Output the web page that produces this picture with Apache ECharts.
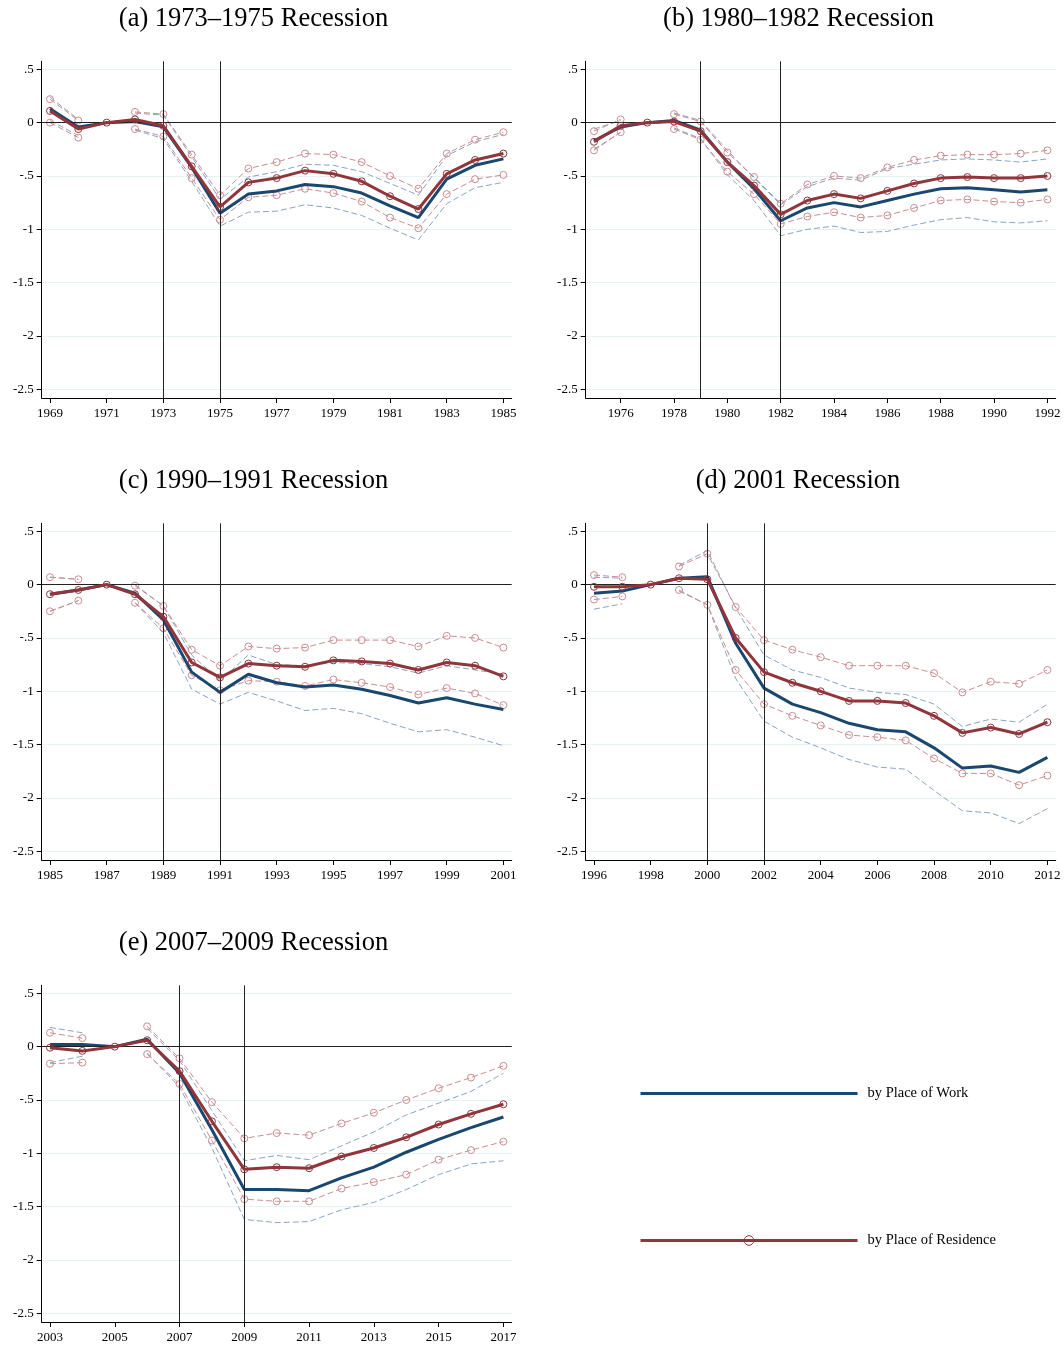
<!DOCTYPE html>
<html>
<head>
<meta charset="utf-8">
<script src="https://cdn.jsdelivr.net/npm/echarts@6/dist/echarts.min.js"></script>
<style>
  html, body { margin: 0; padding: 0; background: #fff; }
  #chart { width: 1064px; height: 1346px; }
</style>
</head>
<body>
<div id="chart"></div>
<script>
// ---------------- DATA ----------------
const yTicks = [0.5, 0, -0.5, -1, -1.5, -2, -2.5];
const legendWork = 'by Place of Work';
const legendRes = 'by Place of Residence';

// (a) 1973–1975
const titleA = '(a) 1973\u20131975 Recession';
const yearsA = [1969,1970,1971,1972,1973,1974,1975,1976,1977,1978,1979,1980,1981,1982,1983,1984,1985];
const xTicksA = [1969,1971,1973,1975,1977,1979,1981,1983,1985];
const recA = [1973, 1975];
const workA   = [0.13,-0.04,0,0.01,-0.04,-0.42,-0.85,-0.67,-0.64,-0.58,-0.60,-0.66,-0.78,-0.89,-0.53,-0.40,-0.34];
const workHiA = [0.24,0.03,null,0.09,0.07,-0.32,-0.72,-0.51,-0.46,-0.39,-0.40,-0.46,-0.57,-0.68,-0.31,-0.18,-0.11];
const workLoA = [0.02,-0.12,null,-0.07,-0.15,-0.55,-0.97,-0.84,-0.83,-0.77,-0.80,-0.87,-0.99,-1.10,-0.76,-0.61,-0.56];
const resA    = [0.11,-0.06,0,0.03,-0.03,-0.41,-0.79,-0.56,-0.52,-0.45,-0.48,-0.55,-0.69,-0.81,-0.48,-0.35,-0.29];
const resHiA  = [0.22,0.02,null,0.10,0.08,-0.30,-0.68,-0.43,-0.37,-0.29,-0.30,-0.37,-0.50,-0.62,-0.29,-0.16,-0.09];
const resLoA  = [0.00,-0.14,null,-0.06,-0.13,-0.52,-0.91,-0.70,-0.68,-0.62,-0.66,-0.74,-0.89,-0.99,-0.67,-0.53,-0.49];

// (b) 1980–1982
const titleB = '(b) 1980\u20131982 Recession';
const yearsB = [1975,1976,1977,1978,1979,1980,1981,1982,1983,1984,1985,1986,1987,1988,1989,1990,1991,1992];
const xTicksB = [1976,1978,1980,1982,1984,1986,1988,1990,1992];
const recB = [1979, 1982];
const workB   = [-0.17,-0.04,0,0.02,-0.07,-0.37,-0.62,-0.92,-0.80,-0.75,-0.79,-0.73,-0.67,-0.62,-0.61,-0.63,-0.65,-0.63];
const workHiB = [-0.06,0.02,null,0.09,0.02,-0.26,-0.52,-0.77,-0.60,-0.52,-0.54,-0.43,-0.39,-0.35,-0.34,-0.35,-0.37,-0.34];
const workLoB = [-0.25,-0.09,null,-0.05,-0.15,-0.49,-0.73,-1.06,-1.00,-0.97,-1.03,-1.02,-0.96,-0.91,-0.89,-0.93,-0.94,-0.92];
const resB    = [-0.18,-0.03,0,0.01,-0.08,-0.37,-0.59,-0.86,-0.73,-0.67,-0.71,-0.64,-0.57,-0.52,-0.51,-0.52,-0.52,-0.50];
const resHiB  = [-0.08,0.03,null,0.08,0.01,-0.28,-0.51,-0.76,-0.58,-0.50,-0.52,-0.42,-0.35,-0.31,-0.30,-0.30,-0.29,-0.26];
const resLoB  = [-0.26,-0.09,null,-0.06,-0.16,-0.46,-0.67,-0.95,-0.88,-0.84,-0.89,-0.87,-0.80,-0.73,-0.72,-0.74,-0.75,-0.72];

// (c) 1990–1991
const titleC = '(c) 1990\u20131991 Recession';
const yearsC = [1985,1986,1987,1988,1989,1990,1991,1992,1993,1994,1995,1996,1997,1998,1999,2000,2001];
const xTicksC = [1985,1987,1989,1991,1993,1995,1997,1999,2001];
const recC = [1989, 1991];
const workC   = [-0.09,-0.05,0,-0.08,-0.33,-0.82,-1.01,-0.84,-0.92,-0.96,-0.94,-0.98,-1.04,-1.11,-1.06,-1.12,-1.17];
const workHiC = [0.07,0.05,null,0.00,-0.20,-0.66,-0.90,-0.66,-0.75,-0.76,-0.73,-0.74,-0.77,-0.83,-0.76,-0.80,-0.84];
const workLoC = [-0.25,-0.15,null,-0.17,-0.45,-0.98,-1.12,-1.01,-1.09,-1.18,-1.16,-1.21,-1.30,-1.38,-1.36,-1.43,-1.51];
const resC    = [-0.09,-0.05,0,-0.09,-0.30,-0.73,-0.87,-0.74,-0.76,-0.77,-0.71,-0.72,-0.74,-0.80,-0.73,-0.76,-0.86];
const resHiC  = [0.07,0.05,null,-0.01,-0.20,-0.61,-0.76,-0.58,-0.60,-0.59,-0.52,-0.52,-0.52,-0.58,-0.48,-0.50,-0.59];
const resLoC  = [-0.25,-0.15,null,-0.17,-0.41,-0.85,-0.99,-0.90,-0.91,-0.95,-0.89,-0.92,-0.96,-1.03,-0.97,-1.02,-1.13];

// (d) 2001
const titleD = '(d) 2001 Recession';
const yearsD = [1996,1997,1998,1999,2000,2001,2002,2003,2004,2005,2006,2007,2008,2009,2010,2011,2012];
const xTicksD = [1996,1998,2000,2002,2004,2006,2008,2010,2012];
const recD = [2000, 2002];
const workD   = [-0.08,-0.06,0,0.06,0.075,-0.55,-0.97,-1.12,-1.20,-1.30,-1.36,-1.38,-1.53,-1.72,-1.70,-1.76,-1.62];
const workHiD = [0.07,0.06,null,0.18,0.32,-0.22,-0.66,-0.80,-0.87,-0.97,-1.01,-1.03,-1.12,-1.33,-1.26,-1.29,-1.12];
const workLoD = [-0.23,-0.18,null,-0.06,-0.19,-0.88,-1.28,-1.43,-1.53,-1.64,-1.71,-1.73,-1.93,-2.12,-2.14,-2.24,-2.10];
const resD    = [-0.02,-0.02,0,0.06,0.05,-0.50,-0.82,-0.92,-1.00,-1.09,-1.09,-1.11,-1.23,-1.39,-1.34,-1.40,-1.29];
const resHiD  = [0.09,0.07,null,0.17,0.29,-0.21,-0.52,-0.61,-0.68,-0.76,-0.76,-0.76,-0.83,-1.01,-0.91,-0.93,-0.80];
const resLoD  = [-0.14,-0.11,null,-0.05,-0.19,-0.80,-1.12,-1.23,-1.32,-1.41,-1.43,-1.46,-1.63,-1.77,-1.77,-1.88,-1.79];

// (e) 2007–2009
const titleE = '(e) 2007\u20132009 Recession';
const yearsE = [2003,2004,2005,2006,2007,2008,2009,2010,2011,2012,2013,2014,2015,2016,2017];
const xTicksE = [2003,2005,2007,2009,2011,2013,2015,2017];
const recE = [2007, 2009];
const workE   = [0.02,0.02,0,0.07,-0.25,-0.78,-1.34,-1.34,-1.35,-1.23,-1.13,-0.99,-0.87,-0.76,-0.66];
const workHiE = [0.18,0.13,null,0.17,-0.13,-0.60,-1.07,-1.02,-1.06,-0.93,-0.80,-0.64,-0.53,-0.42,-0.25];
const workLoE = [-0.15,-0.09,null,-0.06,-0.38,-0.95,-1.62,-1.65,-1.64,-1.53,-1.46,-1.34,-1.20,-1.10,-1.07];
const resE    = [-0.01,-0.04,0,0.06,-0.23,-0.70,-1.15,-1.13,-1.14,-1.03,-0.95,-0.85,-0.73,-0.63,-0.54];
const resHiE  = [0.13,0.08,null,0.19,-0.11,-0.52,-0.86,-0.81,-0.83,-0.72,-0.62,-0.50,-0.39,-0.29,-0.18];
const resLoE  = [-0.16,-0.15,null,-0.07,-0.35,-0.88,-1.43,-1.45,-1.45,-1.33,-1.27,-1.20,-1.06,-0.97,-0.89];

// ---------------- LAYOUT / STYLE ----------------
const panels = [
  {title: titleA, years: yearsA, xTicks: xTicksA, rec: recA, work: workA, workHi: workHiA, workLo: workLoA, res: resA, resHi: resHiA, resLo: resLoA},
  {title: titleB, years: yearsB, xTicks: xTicksB, rec: recB, work: workB, workHi: workHiB, workLo: workLoB, res: resB, resHi: resHiB, resLo: resLoB},
  {title: titleC, years: yearsC, xTicks: xTicksC, rec: recC, work: workC, workHi: workHiC, workLo: workLoC, res: resC, resHi: resHiC, resLo: resLoC},
  {title: titleD, years: yearsD, xTicks: xTicksD, rec: recD, work: workD, workHi: workHiD, workLo: workLoD, res: resD, resHi: resHiD, resLo: resLoD},
  {title: titleE, years: yearsE, xTicks: xTicksE, rec: recE, work: workE, workHi: workHiE, workLo: workLoE, res: resE, resHi: resHiE, resLo: resLoE}
];
const layout = [
  {left: 41.7, top: 61.3, tx: 253.5, ty: 19},
  {left: 585.7, top: 61.3, tx: 798.5, ty: 19},
  {left: 41.7, top: 523.3, tx: 253.5, ty: 481},
  {left: 585.7, top: 523.3, tx: 798, ty: 481},
  {left: 41.7, top: 985.3, tx: 253.5, ty: 943}
];
const GW = 470, GH = 336.7, PADPX = 8.3;
const YMIN = -2.5 - 8.7 / 106.67, YMAX = 0.5 + 8 / 106.67;
const FONT = '"Liberation Serif", "Times New Roman", serif';
const BLUE = '#1a476f', RED = '#90353b', BLUE_CI = '#87a6c4', RED_CI = '#cc8d92';
const GRIDC = '#e8f1f3';

function yFmt(v) {
  if (Math.abs(v) < 1e-9) return '0';
  const s = String(+v.toFixed(1));
  return s.replace(/^(-?)0\./, '$1.');
}
function pairs(xs, ys) { return xs.map((x, i) => [x, ys[i]]); }

const grids = [], xAxes = [], yAxes = [], series = [], graphics = [];
panels.forEach((p, k) => {
  const L = layout[k];
  const first = p.years[0], last = p.years[p.years.length - 1];
  const pad = (last - first) * PADPX / (GW - 2 * PADPX);
  grids.push({left: L.left, top: L.top, width: GW, height: GH, containLabel: false});
  xAxes.push({
    type: 'value', gridIndex: k, min: first - pad, max: last + pad,
    axisLine: {show: true, onZero: false, lineStyle: {color: '#000', width: 1}},
    axisTick: {show: true, length: 5, customValues: p.xTicks, lineStyle: {color: '#000'}},
    axisLabel: {customValues: p.xTicks, formatter: v => String(Math.round(v)), color: '#000', fontFamily: FONT, fontSize: 13, margin: 9},
    splitLine: {show: false}
  });
  yAxes.push({
    type: 'value', gridIndex: k, min: YMIN, max: YMAX,
    axisLine: {show: true, onZero: false, lineStyle: {color: '#000', width: 1}},
    axisTick: {show: true, length: 5, customValues: yTicks, lineStyle: {color: '#000'}},
    axisLabel: {customValues: yTicks, formatter: yFmt, color: '#000', fontFamily: FONT, fontSize: 13, margin: 8},
    splitLine: {show: true, lineStyle: {color: GRIDC, width: 1}}
  });
  const common = {type: 'line', xAxisIndex: k, yAxisIndex: k, connectNulls: false, silent: true, animation: false};
  series.push(Object.assign({}, common, {
    name: 'wHi' + k, data: pairs(p.years, p.workHi), symbol: 'none',
    lineStyle: {color: BLUE_CI, width: 1, type: [6, 3]}, z: 2,
    markLine: {
      silent: true, symbol: ['none', 'none'], label: {show: false}, animation: false,
      lineStyle: {color: '#222', width: 1, type: 'solid'},
      data: [{yAxis: 0}].concat(p.rec.map(r => ({xAxis: r})))
    }
  }));
  series.push(Object.assign({}, common, {
    name: 'wLo' + k, data: pairs(p.years, p.workLo), symbol: 'none',
    lineStyle: {color: BLUE_CI, width: 1, type: [6, 3]}, z: 2
  }));
  series.push(Object.assign({}, common, {
    name: 'rHi' + k, data: pairs(p.years, p.resHi), symbol: 'circle', symbolSize: 7,
    itemStyle: {color: 'rgba(0,0,0,0)', borderColor: RED_CI, borderWidth: 1},
    lineStyle: {color: RED_CI, width: 1, type: [6, 3]}, z: 3
  }));
  series.push(Object.assign({}, common, {
    name: 'rLo' + k, data: pairs(p.years, p.resLo), symbol: 'circle', symbolSize: 7,
    itemStyle: {color: 'rgba(0,0,0,0)', borderColor: RED_CI, borderWidth: 1},
    lineStyle: {color: RED_CI, width: 1, type: [6, 3]}, z: 3
  }));
  series.push(Object.assign({}, common, {
    name: legendWork, data: pairs(p.years, p.work), symbol: 'none',
    itemStyle: {color: BLUE},
    lineStyle: {color: BLUE, width: 3}, z: 4
  }));
  series.push(Object.assign({}, common, {
    name: legendRes, data: pairs(p.years, p.res), symbol: 'circle', symbolSize: 7,
    itemStyle: {color: 'rgba(0,0,0,0)', borderColor: RED, borderWidth: 1},
    lineStyle: {color: RED, width: 3}, z: 5
  }));
  graphics.push({
    type: 'text', x: L.tx, y: L.ty, silent: true,
    style: {text: p.title, font: '26.5px ' + FONT, fill: '#000', textAlign: 'center', textVerticalAlign: 'middle'}
  });
});

const chart = echarts.init(document.getElementById('chart'), null, {renderer: 'canvas'});
chart.setOption({
  animation: false,
  backgroundColor: '#fff',
  grid: grids,
  xAxis: xAxes,
  yAxis: yAxes,
  series: series,
  graphic: graphics,
  legend: {
    show: true, orient: 'vertical', left: 634, top: 1081,
    itemWidth: 217, itemHeight: 12, itemGap: 132,
    selectedMode: false,
    lineStyle: {width: 3},
    textStyle: {fontFamily: FONT, fontSize: 14.5, color: '#000', padding: [0, 0, 0, 5]},
    data: [
      {name: legendWork, itemStyle: {opacity: 0}},
      {name: legendRes, itemStyle: {borderWidth: 1, color: 'rgba(0,0,0,0)'}}
    ]
  }
});
</script>
</body>
</html>
